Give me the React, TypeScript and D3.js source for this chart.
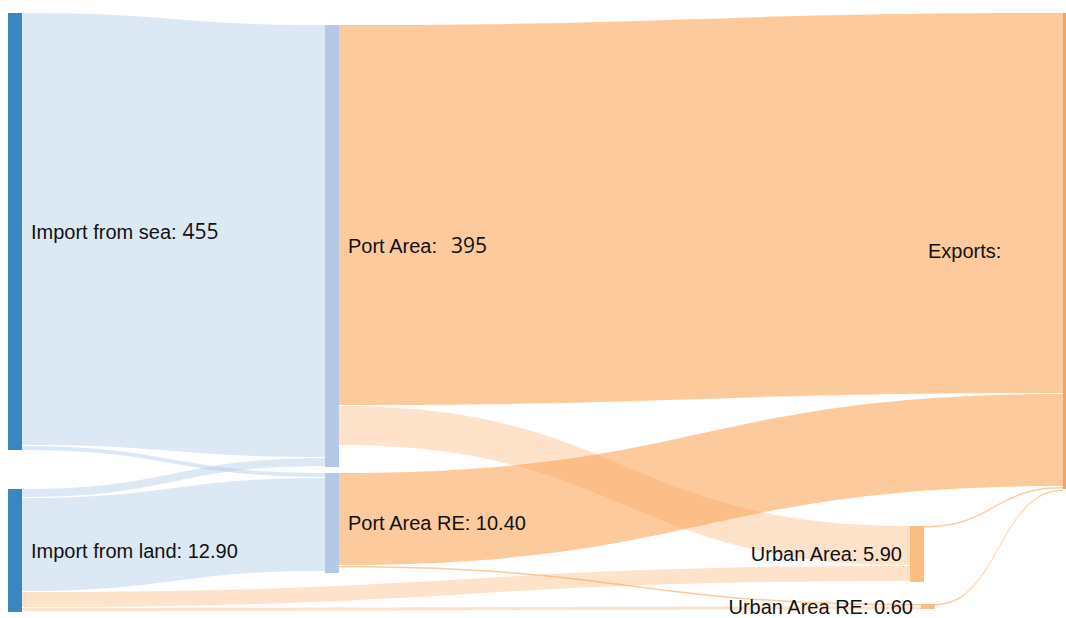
import React from "react";
import * as d3 from "d3";

// ---------- data ----------
const nodeNames = [
  "Import from sea",
  "Import from land",
  "Port Area",
  "Port Area RE",
  "Urban Area",
  "Urban Area RE",
  "Exports",
];
const nodeLabelValues = ["455", "12.90", "395", "10.40", "5.90", "0.60", ""];
const nodeColumns = [0, 0, 1, 1, 2, 2, 3];
// visual band weight of each node
const nodeWeights = [437, 123, 442, 100, 56, 5, 476];

const linkSources = [
  "Import from sea",
  "Import from sea",
  "Import from land",
  "Import from land",
  "Import from land",
  "Import from land",
  "Port Area",
  "Port Area",
  "Port Area RE",
  "Port Area RE",
  "Urban Area",
  "Urban Area RE",
];
const linkTargets = [
  "Port Area",
  "Port Area RE",
  "Port Area",
  "Port Area RE",
  "Urban Area",
  "Urban Area RE",
  "Exports",
  "Urban Area",
  "Exports",
  "Urban Area RE",
  "Exports",
  "Exports",
];
const linkWeights = [432, 4, 8, 93, 15, 3, 380, 39, 92, 1.5, 1.5, 1.5];

// ---------- layout ----------
const W = 1066;
const H = 618;
const nodeOffsets = [0, 476, 12, 460, 513, 591, 0]; // vertical start of each node (units)
const columnX = d3.scaleOrdinal<number, number>().domain([0, 1, 2, 3]).range([8, 325, 910, 1063]);
const columnWidth = [14, 14, 14, 3];
const nodeShiftX: Record<string, number> = { "Urban Area RE": 11 };
const LINK_GAP = 1;
const FONT = "'Liberation Sans', Arial, sans-serif";

const colors = {
  col0: "#3a86bf",
  col1: "#b4c9e7",
  col2: "#fbbd80",
  col3: "#f6a35b",
  blueLink: "#aec7e8",
  orangeLink: "#fb9f4f",
};

type N = {
  name: string;
  value: string;
  col: number;
  x0: number;
  x1: number;
  y0: number;
  y1: number;
};
type L = {
  s: N;
  t: N;
  w: number;
  sy0: number;
  sy1: number;
  ty0: number;
  ty1: number;
};

function layout() {
  const y = d3.scaleLinear().domain([0, 599]).range([13, 612]);
  const len = (v: number) => y(v) - y(0);
  const nodes: N[] = nodeNames.map((name, i) => {
    const x0 = columnX(nodeColumns[i]) + (nodeShiftX[name] || 0);
    return {
      name,
      value: nodeLabelValues[i],
      col: nodeColumns[i],
      x0,
      x1: x0 + columnWidth[nodeColumns[i]],
      y0: y(nodeOffsets[i]),
      y1: y(nodeOffsets[i] + nodeWeights[i]),
    };
  });
  const byName = new Map(nodes.map((n) => [n.name, n]));
  const links: L[] = linkSources.map((s, i) => ({
    s: byName.get(s)!,
    t: byName.get(linkTargets[i])!,
    w: linkWeights[i],
    sy0: 0,
    sy1: 0,
    ty0: 0,
    ty1: 0,
  }));
  for (const n of nodes) {
    const outs = links.filter((l) => l.s === n).sort((a, b) => a.t.y0 - b.t.y0);
    let cy = n.y0;
    for (const l of outs) {
      l.sy0 = cy;
      l.sy1 = cy + len(l.w);
      cy = l.sy1 + LINK_GAP;
    }
    const ins = links.filter((l) => l.t === n).sort((a, b) => a.s.y0 - b.s.y0);
    cy = n.y0;
    for (const l of ins) {
      l.ty0 = cy;
      l.ty1 = cy + len(l.w);
      cy = l.ty1 + LINK_GAP;
    }
  }
  return { nodes, links };
}

function bandPath(l: L) {
  const x0 = l.s.x1;
  const x1 = l.t.x0;
  const xm = (x0 + x1) / 2;
  const p = d3.path();
  p.moveTo(x0, l.sy0);
  p.bezierCurveTo(xm, l.sy0, xm, l.ty0, x1, l.ty0);
  p.lineTo(x1, l.ty1);
  p.bezierCurveTo(xm, l.ty1, xm, l.sy1, x0, l.sy1);
  p.closePath();
  return p.toString();
}

function nodeColor(n: N) {
  return [colors.col0, colors.col1, colors.col2, colors.col3][n.col];
}

function linkStyle(l: L) {
  if (l.t.col === 1) return { fill: colors.blueLink, opacity: 0.42 };
  if (l.t.name === "Exports" || l.w < 2) return { fill: colors.orangeLink, opacity: 0.55 };
  return { fill: colors.orangeLink, opacity: 0.3 };
}

export default function App() {
  const { nodes, links } = layout();
  return (
    <svg
      width={W}
      height={H}
      style={{ position: "absolute", left: 0, top: 0, background: "#fff" }}
      fontFamily={FONT}
    >
      <g>
        {links.map((l, i) => {
          const st = linkStyle(l);
          return <path key={i} d={bandPath(l)} fill={st.fill} fillOpacity={st.opacity} />;
        })}
      </g>
      <g>
        {nodes.map((n) => (
          <rect key={n.name} x={n.x0} y={n.y0} width={n.x1 - n.x0} height={n.y1 - n.y0} fill={nodeColor(n)} />
        ))}
      </g>
      <g fontSize={20} fill="#111">
        {nodes.map((n) => {
          const cy = (n.y0 + n.y1) / 2;
          const big = n.name === "Import from sea" || n.name === "Port Area";
          if (n.col < 2) {
            return (
              <text key={n.name} x={n.x1 + 9} y={cy} dy="0.35em">
                {n.name + ":"}
                {big ? (
                  <tspan fontFamily="'Open Sans', sans-serif" fontSize={21} dx={n.name === "Port Area" ? 14 : 6}>
                    {n.value}
                  </tspan>
                ) : (
                  " " + n.value
                )}
              </text>
            );
          }
          if (n.col === 2) {
            return (
              <text key={n.name} x={n.x0 - 8} y={cy} dy="0.35em" textAnchor="end">
                {n.name + ": " + n.value}
              </text>
            );
          }
          return (
            <text key={n.name} x={n.x0 - 135} y={cy} dy="0.35em">
              {n.name + ":"}
            </text>
          );
        })}
      </g>
    </svg>
  );
}
